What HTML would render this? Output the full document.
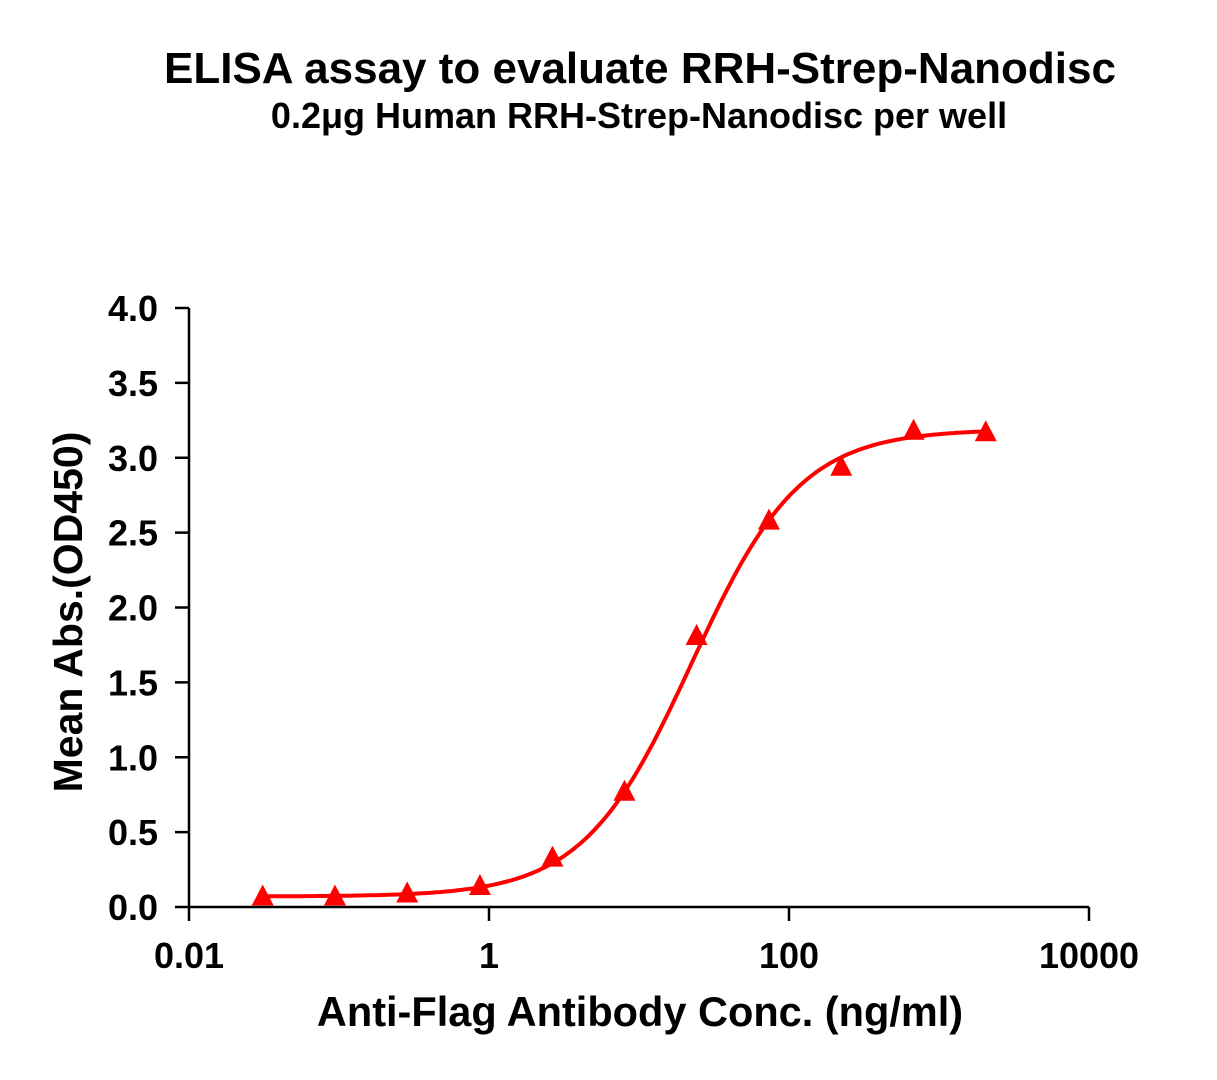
<!DOCTYPE html>
<html><head><meta charset="utf-8"><style>
body{margin:0;background:#fff}
svg text{font-family:"Liberation Sans",Arial,sans-serif;font-weight:bold;fill:#000}
</style></head><body>
<svg id="c" width="1217" height="1075">
<text x="640" y="83" font-size="44" text-anchor="middle">ELISA assay to evaluate RRH-Strep-Nanodisc</text>
<text x="639" y="128" font-size="36" text-anchor="middle">0.2μg Human RRH-Strep-Nanodisc per well</text>
<text x="640" y="1026" font-size="41.5" text-anchor="middle">Anti-Flag Antibody Conc. (ng/ml)</text>
<text transform="translate(82,612) rotate(-90)" font-size="41" text-anchor="middle">Mean Abs.(OD450)</text>
<g id="axes"></g><g id="plot"></g>
</svg>
<script>
const xTicks=[0.01,1,100,10000];
const xTickLabels=["0.01","1","100","10000"];
const yTicks=[0,0.5,1,1.5,2,2.5,3,3.5,4];
const yTickLabels=["0.0","0.5","1.0","1.5","2.0","2.5","3.0","3.5","4.0"];
const conc=[0.031,0.094,0.285,0.87,2.65,8.0,24.2,73.5,223,677,2050];
const od=[0.07,0.07,0.09,0.14,0.33,0.77,1.81,2.58,2.94,3.18,3.17];
const fitBottom=0.07, fitTop=3.19, fitEC50=22.5, fitHill=1.2;
const NS="http://www.w3.org/2000/svg";
const X=v=>189+(Math.log10(v)+2)*150;
const Y=v=>907-v*149.75;
function mk(t,a,p){const e=document.createElementNS(NS,t);for(const k in a)e.setAttribute(k,a[k]);p.appendChild(e);return e;}
const ax=document.getElementById('axes'),pl=document.getElementById('plot');
let e=mk('line',{x1:189,y1:Y(4),x2:189,y2:Y(0),stroke:'#000','stroke-width':2.5},ax);


e=mk('line',{x1:189,y1:907,x2:X(10000),y2:907,stroke:'#000','stroke-width':2.5},ax);


yTicks.forEach((v,i)=>{mk('line',{x1:175,y1:Y(v),x2:189,y2:Y(v),stroke:'#000','stroke-width':2.5},ax);
const t=mk('text',{x:158,y:Y(v)+13,'font-size':36,'text-anchor':'end'},ax);t.textContent=yTickLabels[i];

});
xTicks.forEach((v,i)=>{mk('line',{x1:X(v),y1:907,x2:X(v),y2:921,stroke:'#000','stroke-width':2.5},ax);
const t=mk('text',{x:X(v),y:968,'font-size':36,'text-anchor':'middle'},ax);t.textContent=xTickLabels[i];

});
let d='';const lo=Math.log10(conc[0]),hi=Math.log10(conc[conc.length-1]);
for(let i=0;i<=200;i++){const lx=lo+(hi-lo)*i/200,c=Math.pow(10,lx);
const y=fitBottom+(fitTop-fitBottom)/(1+Math.pow(fitEC50/c,fitHill));d+=(i?'L':'M')+X(c).toFixed(1)+','+Y(y).toFixed(1);}
e=mk('path',{d:d,fill:'none',stroke:'#f00','stroke-width':4},pl);


conc.forEach((c,i)=>{const x=X(c),y=Y(od[i]);
const p=mk('polygon',{points:`${x},${y-12} ${x-11},${y+9} ${x+11},${y+9}`,fill:'#f00'},pl);

});
</script>
</body></html>
